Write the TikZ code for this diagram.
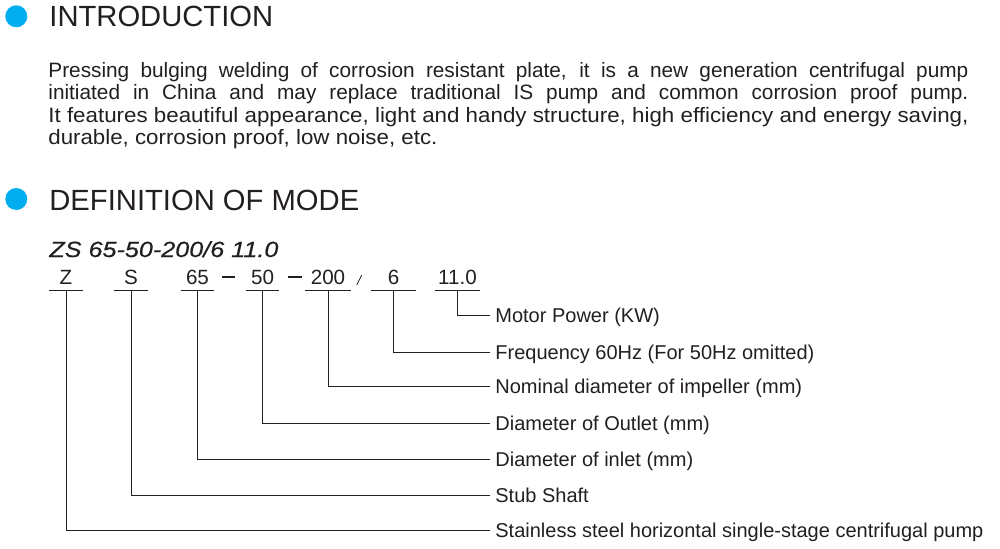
\documentclass[tikz,border=0pt]{standalone}
\usepackage{fontspec}
\setmainfont{Liberation Sans}
\newfontfamily\modelfont[FakeBold=0.5]{Liberation Sans}
\usepackage{graphicx}
\definecolor{ink}{RGB}{35,31,32}
\definecolor{dotblue}{RGB}{0,174,239}
\tikzset{
    heading/.style={anchor=base west, inner sep=0pt, font=\fontsize{14.6pt}{16pt}\selectfont, text=ink},
    bodyline/.style={anchor=base west, inner sep=0pt, font=\fontsize{10.4pt}{12pt}\selectfont, text=ink},
    code/.style={anchor=south, inner xsep=0pt, inner ysep=2.5pt, text depth=0pt, font=\fontsize{10.3pt}{12pt}\selectfont, text=ink},
    label/.style={anchor=west, inner xsep=2.5pt, inner ysep=0pt, text height=7pt, text depth=0pt, font=\fontsize{10pt}{12pt}\selectfont, text=ink},
    leader/.style={draw=ink, line width=0.5pt},
}
\begin{document}
\begin{tikzpicture}[x=0.5pt, y=-0.5pt]
        \useasboundingbox (0, 0) rectangle (1000, 548);

        % headings
        \fill[dotblue] (16.3, 16.3) circle (11);
        \node[heading] (intro) at (49, 26) {INTRODUCTION};
        \fill[dotblue] (16.3, 199) circle (11);
        \node[heading] (define) at (49, 210) {DEFINITION OF MODE};

        % introduction text
        \node[bodyline] (l1) at (48, 77) {\makebox[460pt][s]{Pressing bulging welding of corrosion resistant plate, it is a new generation centrifugal pump}};
        \node[bodyline] (l2) at (48, 99.5) {\makebox[460pt][s]{initiated in China and may replace traditional IS pump and common corrosion proof pump.}};
        \node[bodyline] (l3) at (48, 122) {\resizebox{460pt}{\height}{It features beautiful appearance, light and handy structure, high efficiency and energy saving,}};
        \node[bodyline] (l4) at (48, 144.5) {\resizebox{194.5pt}{\height}{durable, corrosion proof, low noise, etc.}};

        % model code
        \node[bodyline, font=\fontsize{11pt}{13pt}\modelfont\itshape] (model) at (49, 257) {\resizebox{114.5pt}{\height}{ZS 65-50-200/6 11.0}};

        \node[code, minimum width=17pt] (cz) at (66, 290) {Z};
        \node[code, minimum width=17pt] (cs) at (131, 290) {S};
        \node[code, minimum width=16.5pt] (cin) at (197.5, 290) {65};
        \node[code, minimum width=16.5pt] (cout) at (262.5, 290) {50};
        \node[code, minimum width=23pt] (cimp) at (328, 290) {200};
        \node[code, minimum width=22.5pt] (cfreq) at (393.5, 290) {6};
        \node[code, minimum width=22.5pt] (cpow) at (457.5, 290) {11.0};
        \foreach \n in {cz, cs, cin, cout, cimp, cfreq, cpow}
            \draw[leader] (\n.south west) -- (\n.south east);

        \draw[ink, line width=1pt] (221.7, 277) -- (235, 277);
        \draw[ink, line width=1pt] (288.3, 277) -- (301.7, 277);
        \draw[ink, line width=0.4pt] (356.7, 285) -- (361.7, 275);

        % meanings
        \node[label] (tpow) at (490, 315) {Motor Power (KW)};
        \node[label] (tfreq) at (490, 352) {Frequency 60Hz (For 50Hz omitted)};
        \node[label] (timp) at (490, 386) {Nominal diameter of impeller (mm)};
        \node[label] (tout) at (490, 423) {Diameter of Outlet (mm)};
        \node[label] (tin) at (490, 459) {Diameter of inlet (mm)};
        \node[label] (ts) at (490, 495) {Stub Shaft};
        \node[label] (tz) at (490, 530) {Stainless steel horizontal single-stage centrifugal pump};

        \foreach \a/\b in {cpow/tpow, cfreq/tfreq, cimp/timp, cout/tout, cin/tin, cs/ts, cz/tz}
            \draw[leader] (\a.south) |- (\b.west);
    \end{tikzpicture}
\end{document}
